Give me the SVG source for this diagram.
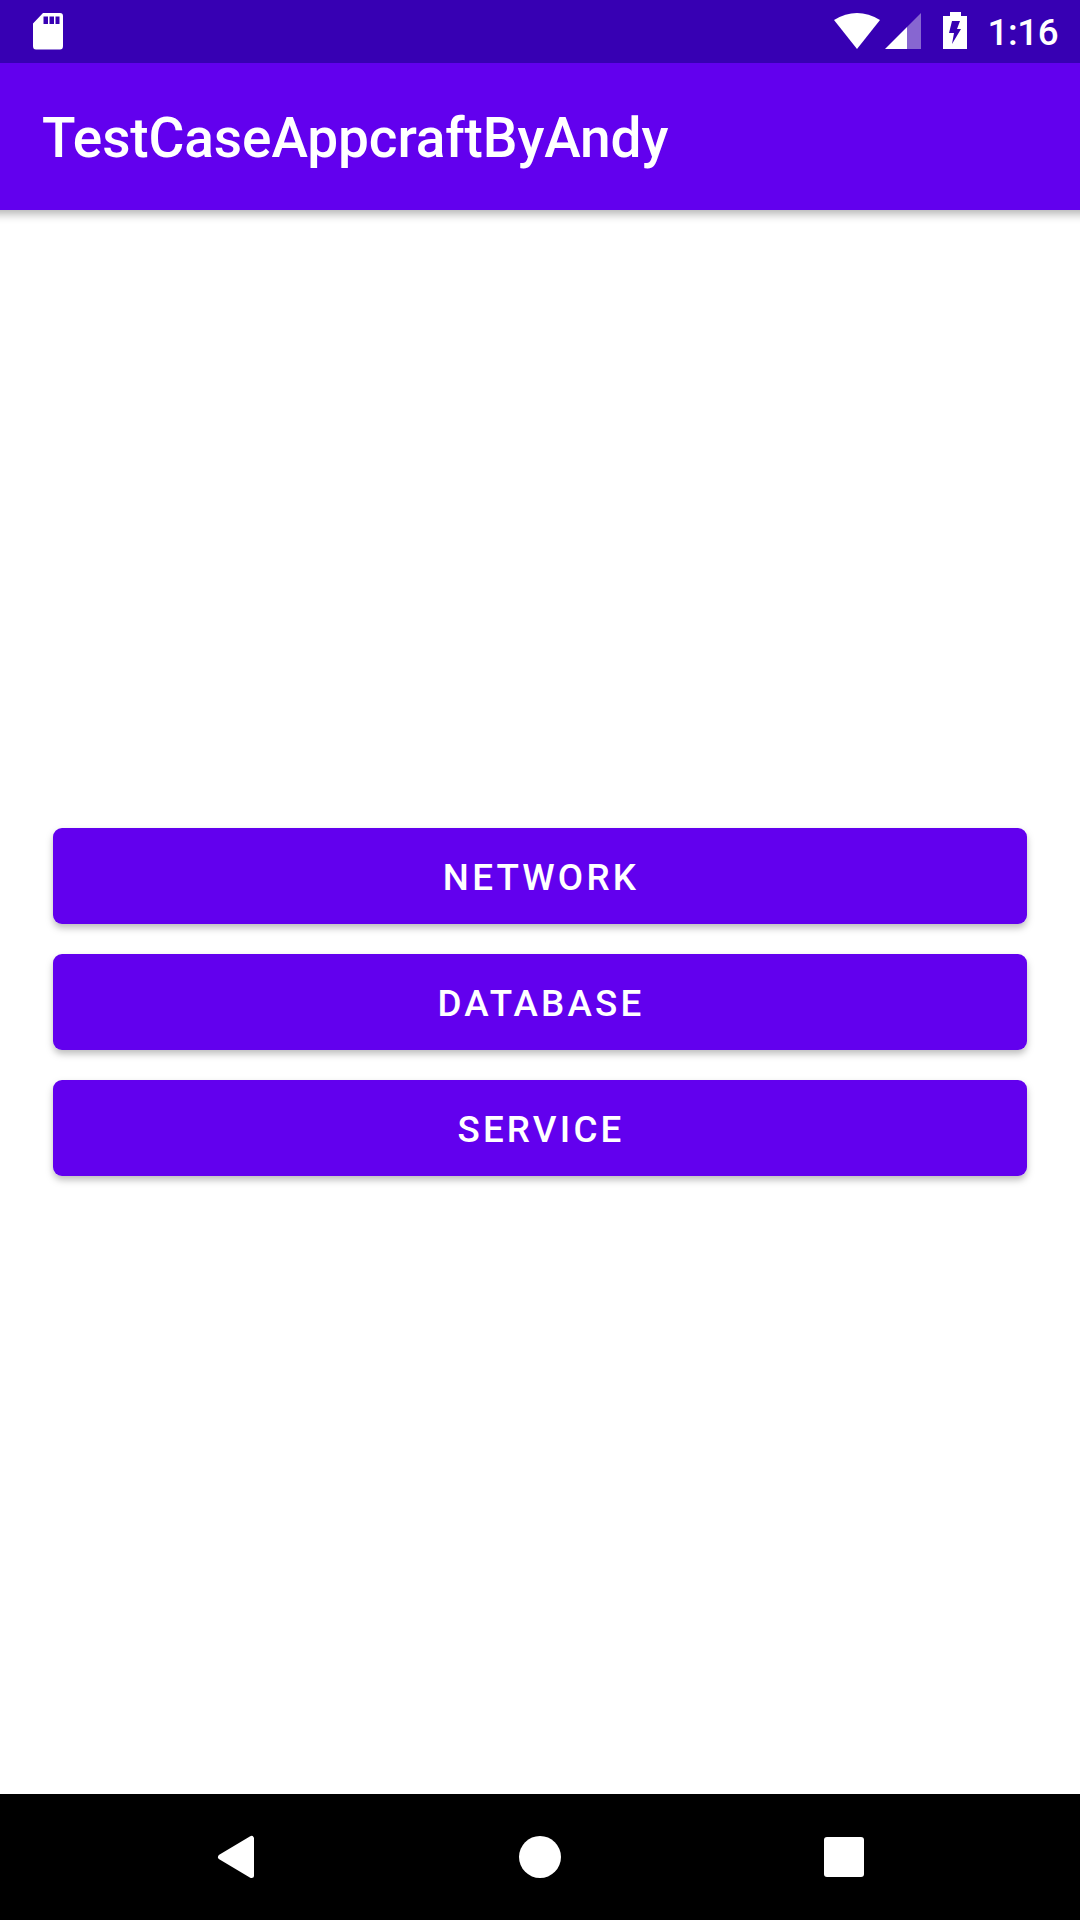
<svg xmlns="http://www.w3.org/2000/svg" width="1080" height="1920" viewBox="0 0 1080 1920">
<style>
.roboto{font-family:Roboto,"Liberation Sans",sans-serif;fill:#fff}
.btn{fill:#6200EE;filter:url(#btnShadow)}
.lbl{font-size:36.75px;font-weight:500;letter-spacing:3.2px;text-anchor:middle}
.ico{fill:#fff}
</style>
<defs>
<filter id="btnShadow" x="-5%" y="-30%" width="110%" height="170%">
<feDropShadow dx="0" dy="4" stdDeviation="3.500" flood-color="#000" flood-opacity="0.26"/>
</filter>
<filter id="barShadow" x="-5%" y="-30%" width="110%" height="170%">
<feDropShadow dx="0" dy="4" stdDeviation="5" flood-color="#000" flood-opacity="0.3"/>
</filter>
</defs>
<rect id="background" width="1080" height="1920" fill="#fff"/>
<g id="app-bar">
<rect x="-20" y="63" width="1120" height="147" fill="#6200EE" filter="url(#barShadow)"/>
<text class="roboto" x="42" y="157" font-size="55" font-weight="500" letter-spacing="-0.12">TestCaseAppcraftByAndy</text>
</g>
<g id="status-bar">
<rect width="1080" height="63" fill="#3700B3"/>
<path id="sd-icon" class="ico" fill-rule="evenodd" d="M43 13H60Q63 13 63 16V46Q63 49.500 60 49.500H36Q33 49.500 33 46V23.500ZM43.500 16.500V24H48V16.500ZM49.500 16.500V24H54V16.500ZM55.500 16.500V24H59.500V16.500Z"/>
<path id="wifi-icon" class="ico" d="M834 20Q857 6 880 20L857 49Z"/>
<g id="signal-icon">
<path class="ico" d="M885 49L907 27V49Z"/>
<path class="ico" opacity="0.4" d="M907 27L921 13V49H907Z"/>
</g>
<path id="battery-icon" class="ico" fill-rule="evenodd" d="M950 12H961V16H967V49H943V16H950ZM952 21L949 33H954L952 44L961 29H957L960 21Z"/>
<text class="roboto" x="987.500" y="45" font-size="36.75" font-weight="500" letter-spacing="-0.4">1:16</text>
</g>
<g id="button-network">
<rect class="btn" x="53" y="828" width="974" height="96" rx="9"/>
<text class="roboto lbl" x="541" y="890">NETWORK</text>
</g>
<g id="button-database">
<rect class="btn" x="53" y="954" width="974" height="96" rx="9"/>
<text class="roboto lbl" x="541" y="1016">DATABASE</text>
</g>
<g id="button-service">
<rect class="btn" x="53" y="1080" width="974" height="96" rx="9"/>
<text class="roboto lbl" x="541" y="1142">SERVICE</text>
</g>
<g id="nav-bar">
<rect y="1794" width="1080" height="126" fill="#000"/>
<path id="nav-back" class="ico" stroke="#fff" stroke-width="5" stroke-linejoin="round" d="M220.500 1857L251.500 1838.500V1875.500Z"/>
<circle id="nav-home" class="ico" cx="540" cy="1857" r="21"/>
<rect id="nav-recent" class="ico" x="824" y="1837" width="40" height="40" rx="3"/>
</g>
</svg>
